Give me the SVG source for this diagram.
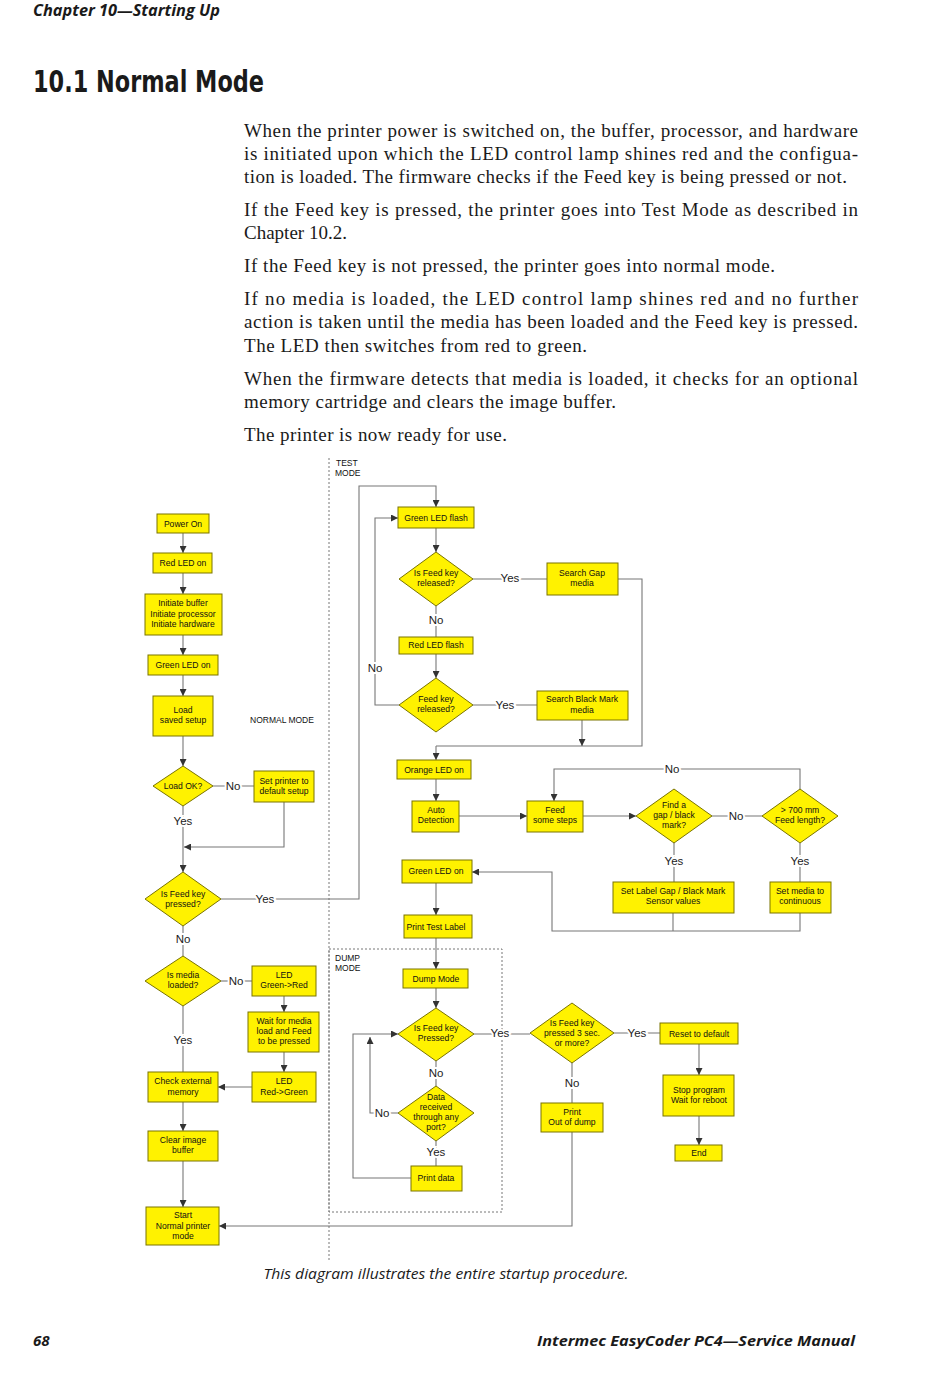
<svg xmlns="http://www.w3.org/2000/svg" width="950" height="1397" viewBox="0 0 950 1397">
<defs>
<marker id="ah" viewBox="0 0 10 10" refX="10" refY="5" markerWidth="7" markerHeight="7" markerUnits="userSpaceOnUse" orient="auto"><path d="M0,0 L10,5 L0,10 z" fill="#333"/></marker>
<style>
.n rect,.n polygon{fill:#FFF200;stroke:#7a7400;stroke-width:1}
.n text{font-family:"Liberation Sans",Arial,sans-serif;font-size:8.6px;fill:#111;text-anchor:middle}
.c path{fill:none;stroke:#777;stroke-width:1.1}
.c path.a{marker-end:url(#ah)}
.lb{font-family:"Liberation Sans",Arial,sans-serif;font-size:11.5px;fill:#222;text-anchor:middle;stroke:#fff;stroke-width:4;paint-order:stroke}
.md{font-family:"Liberation Sans",Arial,sans-serif;font-size:8.5px;fill:#111}
.dash{fill:none;stroke:#777;stroke-width:1;stroke-dasharray:2,2}
.body{font-family:"Liberation Serif","Times New Roman",serif;font-size:19px;fill:#1a1a1a}
.hd{font-family:"Open Sans","Liberation Sans",sans-serif;font-style:italic;font-weight:bold;fill:#1a1a1a}
</style>
</defs>
<rect width="950" height="1397" fill="#fff"/>
<g id="page-text">
<text class="hd" x="33" y="16" font-size="16" textLength="187" lengthAdjust="spacingAndGlyphs">Chapter 10—Starting Up</text>
<text x="33" y="92" font-family="'DejaVu Sans Condensed','Liberation Sans',sans-serif" font-weight="bold" font-size="31" fill="#1a1a1a" textLength="231" lengthAdjust="spacingAndGlyphs">10.1 Normal Mode</text>
<text class="body" x="244" y="137" textLength="614" lengthAdjust="spacing">When the printer power is switched on, the buffer, processor, and hardware</text>
<text class="body" x="244" y="160" textLength="614" lengthAdjust="spacing">is initiated upon which the LED control lamp shines red and the configua-</text>
<text class="body" x="244" y="183" textLength="603" lengthAdjust="spacing">tion is loaded. The firmware checks if the Feed key is being pressed or not.</text>
<text class="body" x="244" y="216" textLength="614" lengthAdjust="spacing">If the Feed key is pressed, the printer goes into Test Mode as described in</text>
<text class="body" x="244" y="239">Chapter 10.2.</text>
<text class="body" x="244" y="272" textLength="531" lengthAdjust="spacing">If the Feed key is not pressed, the printer goes into normal mode.</text>
<text class="body" x="244" y="305" textLength="614" lengthAdjust="spacing">If no media is loaded, the LED control lamp shines red and no further</text>
<text class="body" x="244" y="328" textLength="614" lengthAdjust="spacing">action is taken until the media has been loaded and the Feed key is pressed.</text>
<text class="body" x="244" y="352" textLength="343" lengthAdjust="spacing">The LED then switches from red to green.</text>
<text class="body" x="244" y="385" textLength="614" lengthAdjust="spacing">When the firmware detects that media is loaded, it checks for an optional</text>
<text class="body" x="244" y="408" textLength="372" lengthAdjust="spacing">memory cartridge and clears the image buffer.</text>
<text class="body" x="244" y="441" textLength="263" lengthAdjust="spacing">The printer is now ready for use.</text>
<text x="446" y="1279" font-family="'Open Sans','Liberation Sans',sans-serif" font-style="italic" font-size="15" fill="#1a1a1a" text-anchor="middle" textLength="365" lengthAdjust="spacingAndGlyphs">This diagram illustrates the entire startup procedure.</text>
<text class="hd" x="33" y="1346" font-size="15">68</text>
<text class="hd" x="855" y="1346" font-size="15" text-anchor="end" textLength="318" lengthAdjust="spacingAndGlyphs">Intermec EasyCoder PC4—Service Manual</text>
</g>
<g id="mode-regions">
<path class="dash" d="M329,458 V1262"/>
<rect class="dash" x="329" y="949" width="173" height="263"/>
<text class="md" x="336" y="466">TEST</text>
<text class="md" x="335" y="476">MODE</text>
<text class="md" x="250" y="723">NORMAL MODE</text>
<text class="md" x="335" y="961">DUMP</text>
<text class="md" x="335" y="971">MODE</text>
</g>
<g id="connectors" class="c">
<path class="a" d="M183,533 V553"/>
<path class="a" d="M183,573 V594"/>
<path class="a" d="M183,635 V655"/>
<path class="a" d="M183,675 V696"/>
<path class="a" d="M183,736 V766"/>
<path class="a" d="M183,806 V872"/>
<path d="M213,786 H254"/>
<path class="a" d="M284,802 V847 H184"/>
<path class="a" d="M221,899 H359 V486 H436 V507"/>
<path d="M183,926 V956"/>
<path d="M221,981 H252"/>
<path class="a" d="M284,996 V1012"/>
<path class="a" d="M284,1052 V1072"/>
<path class="a" d="M252,1087 H218"/>
<path d="M183,1006 V1072"/>
<path class="a" d="M183,1102 V1131"/>
<path class="a" d="M183,1161 V1207"/>
<path class="a" d="M572,1132 V1226 H219"/>
<path class="a" d="M436,528 V552"/>
<path d="M473,579 H547"/>
<path d="M618,579 H642 V746 H436"/>
<path class="a" d="M436,746 V760"/>
<path class="a" d="M582,720 V746"/>
<path d="M436,606 V637"/>
<path class="a" d="M436,654 V678"/>
<path class="a" d="M399,705 H375 V518 H398"/>
<path d="M473,705 H537"/>
<path class="a" d="M436,779 V801"/>
<path class="a" d="M459,816 H527"/>
<path class="a" d="M583,816 H636"/>
<path d="M712,816 H762"/>
<path class="a" d="M800,789 V769 H554 V801"/>
<path d="M674,843 V882"/>
<path d="M800,843 V882"/>
<path d="M673,913 V931"/>
<path class="a" d="M800,913 V931 H552 V872 H472"/>
<path class="a" d="M436,883 V915"/>
<path class="a" d="M436,938 V969"/>
<path class="a" d="M436,988 V1008"/>
<path d="M436,1061 V1086"/>
<path class="a" d="M398,1113 H370 V1037"/>
<path d="M436,1141 V1166"/>
<path class="a" d="M411,1178 H353 V1034 H398"/>
<path d="M474,1034 H530"/>
<path d="M614,1033 H660"/>
<path class="a" d="M699,1044 V1075"/>
<path class="a" d="M699,1116 V1145"/>
<path d="M572,1063 V1103"/>
</g>
<g id="labels">
<text class="lb" x="233" y="790">No</text>
<text class="lb" x="183" y="825">Yes</text>
<text class="lb" x="265" y="903">Yes</text>
<text class="lb" x="183" y="943">No</text>
<text class="lb" x="236" y="985">No</text>
<text class="lb" x="183" y="1044">Yes</text>
<text class="lb" x="510" y="582">Yes</text>
<text class="lb" x="436" y="624">No</text>
<text class="lb" x="375" y="672">No</text>
<text class="lb" x="505" y="709">Yes</text>
<text class="lb" x="672" y="773">No</text>
<text class="lb" x="736" y="820">No</text>
<text class="lb" x="674" y="865">Yes</text>
<text class="lb" x="800" y="865">Yes</text>
<text class="lb" x="436" y="1077">No</text>
<text class="lb" x="382" y="1117">No</text>
<text class="lb" x="436" y="1156">Yes</text>
<text class="lb" x="500" y="1037">Yes</text>
<text class="lb" x="637" y="1037">Yes</text>
<text class="lb" x="572" y="1087">No</text>
</g>
<g id="power-on" class="n"><rect x="157" y="514" width="52" height="19"/><text x="183" y="527">Power On</text></g>
<g id="red-led-on" class="n"><rect x="153" y="553" width="59" height="20"/><text x="183" y="566">Red LED on</text></g>
<g id="initiate" class="n"><rect x="145" y="594" width="77" height="41"/><text x="183" y="606">Initiate buffer</text><text x="183" y="617">Initiate processor</text><text x="183" y="627">Initiate hardware</text></g>
<g id="green-led-on" class="n"><rect x="148" y="655" width="70" height="20"/><text x="183" y="668">Green LED on</text></g>
<g id="load-setup" class="n"><rect x="153" y="696" width="60" height="40"/><text x="183" y="713">Load</text><text x="183" y="723">saved setup</text></g>
<g id="load-ok" class="n"><polygon points="183,766 213,786 183,806 153,786"/><text x="183" y="789">Load OK?</text></g>
<g id="set-default" class="n"><rect x="254" y="771" width="60" height="31"/><text x="284" y="784">Set printer to</text><text x="284" y="794">default setup</text></g>
<g id="feed-pressed" class="n"><polygon points="183,872 221,899 183,926 145,899"/><text x="183" y="897">Is Feed key</text><text x="183" y="907">pressed?</text></g>
<g id="media-loaded" class="n"><polygon points="183,956 221,981 183,1006 145,981"/><text x="183" y="978">Is media</text><text x="183" y="988">loaded?</text></g>
<g id="led-g-r" class="n"><rect x="252" y="966" width="64" height="30"/><text x="284" y="978">LED</text><text x="284" y="988">Green-&gt;Red</text></g>
<g id="wait-media" class="n"><rect x="248" y="1012" width="71" height="40"/><text x="284" y="1024">Wait for media</text><text x="284" y="1034">load and Feed</text><text x="284" y="1044">to be pressed</text></g>
<g id="led-r-g" class="n"><rect x="252" y="1072" width="64" height="30"/><text x="284" y="1084">LED</text><text x="284" y="1095">Red-&gt;Green</text></g>
<g id="check-memory" class="n"><rect x="148" y="1072" width="70" height="30"/><text x="183" y="1084">Check external</text><text x="183" y="1095">memory</text></g>
<g id="clear-buffer" class="n"><rect x="148" y="1131" width="70" height="30"/><text x="183" y="1143">Clear image</text><text x="183" y="1153">buffer</text></g>
<g id="start-normal" class="n"><rect x="146" y="1207" width="73" height="38"/><text x="183" y="1218">Start</text><text x="183" y="1229">Normal printer</text><text x="183" y="1239">mode</text></g>
<g id="green-led-flash" class="n"><rect x="398" y="507" width="76" height="21"/><text x="436" y="521">Green LED flash</text></g>
<g id="feed-released-1" class="n"><polygon points="436,552 473,579 436,606 399,579"/><text x="436" y="576">Is Feed key</text><text x="436" y="586">released?</text></g>
<g id="search-gap" class="n"><rect x="547" y="563" width="71" height="32"/><text x="582" y="576">Search Gap</text><text x="582" y="586">media</text></g>
<g id="red-led-flash" class="n"><rect x="399" y="637" width="74" height="17"/><text x="436" y="648">Red LED flash</text></g>
<g id="feed-released-2" class="n"><polygon points="436,678 473,705 436,732 399,705"/><text x="436" y="702">Feed key</text><text x="436" y="712">released?</text></g>
<g id="search-black" class="n"><rect x="537" y="691" width="91" height="29"/><text x="582" y="702">Search Black Mark</text><text x="582" y="713">media</text></g>
<g id="orange-led" class="n"><rect x="397" y="760" width="74" height="19"/><text x="434" y="773">Orange LED on</text></g>
<g id="auto-detect" class="n"><rect x="412" y="801" width="47" height="31"/><text x="436" y="813">Auto</text><text x="436" y="823">Detection</text></g>
<g id="feed-steps" class="n"><rect x="527" y="801" width="56" height="31"/><text x="555" y="813">Feed</text><text x="555" y="823">some steps</text></g>
<g id="find-gap" class="n"><polygon points="674,789 712,816 674,843 636,816"/><text x="674" y="808">Find a</text><text x="674" y="818">gap / black</text><text x="674" y="828">mark?</text></g>
<g id="feed-length" class="n"><polygon points="800,789 838,816 800,843 762,816"/><text x="800" y="813">&gt; 700 mm</text><text x="800" y="823">Feed length?</text></g>
<g id="set-label-gap" class="n"><rect x="613" y="882" width="121" height="31"/><text x="673" y="894">Set Label Gap / Black Mark</text><text x="673" y="904">Sensor values</text></g>
<g id="set-continuous" class="n"><rect x="770" y="882" width="61" height="31"/><text x="800" y="894">Set media to</text><text x="800" y="904">continuous</text></g>
<g id="green-led-on-2" class="n"><rect x="402" y="860" width="70" height="23"/><text x="436" y="874">Green LED on</text></g>
<g id="print-test" class="n"><rect x="404" y="915" width="68" height="23"/><text x="436" y="930">Print Test Label</text></g>
<g id="dump-mode" class="n"><rect x="403" y="969" width="65" height="19"/><text x="436" y="982">Dump Mode</text></g>
<g id="feed-pressed-dump" class="n"><polygon points="436,1008 474,1034 436,1061 398,1034"/><text x="436" y="1031">Is Feed key</text><text x="436" y="1041">Pressed?</text></g>
<g id="data-received" class="n"><polygon points="436,1086 474,1113 436,1141 398,1113"/><text x="436" y="1100">Data</text><text x="436" y="1110">received</text><text x="436" y="1120">through any</text><text x="436" y="1130">port?</text></g>
<g id="print-data" class="n"><rect x="411" y="1166" width="51" height="25"/><text x="436" y="1181">Print data</text></g>
<g id="feed-3sec" class="n"><polygon points="572,1003 614,1033 572,1063 530,1033"/><text x="572" y="1026">Is Feed key</text><text x="572" y="1036">pressed 3 sec.</text><text x="572" y="1046">or more?</text></g>
<g id="reset-default" class="n"><rect x="660" y="1023" width="78" height="21"/><text x="699" y="1037">Reset to default</text></g>
<g id="stop-program" class="n"><rect x="663" y="1075" width="71" height="41"/><text x="699" y="1093">Stop program</text><text x="699" y="1103">Wait for reboot</text></g>
<g id="end" class="n"><rect x="675" y="1145" width="47" height="16"/><text x="699" y="1156">End</text></g>
<g id="print-dump" class="n"><rect x="541" y="1103" width="62" height="29"/><text x="572" y="1115">Print</text><text x="572" y="1125">Out of dump</text></g>
</svg>
